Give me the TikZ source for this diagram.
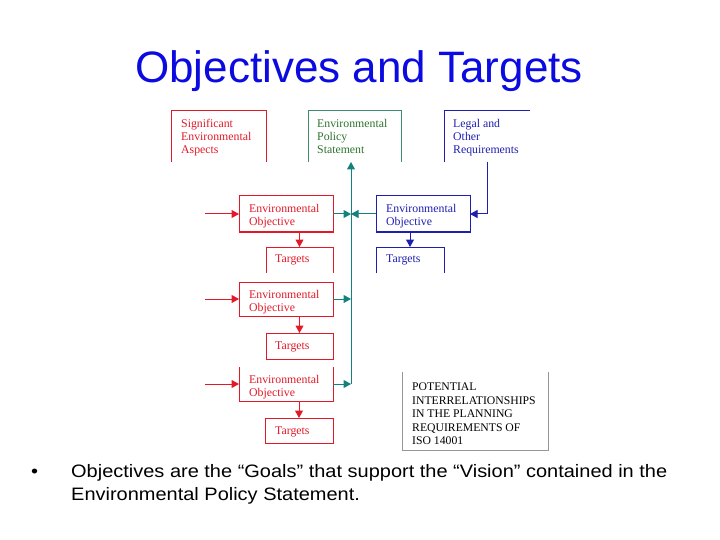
\documentclass[tikz,border=0pt]{standalone}
\usepackage{fontspec}
\setmainfont{Liberation Sans}
\newfontfamily\boxserif{Liberation Serif}
\newfontfamily\widesans[FakeStretch=1.11]{Liberation Sans}
\usetikzlibrary{arrows.meta}
\definecolor{titleblue}{RGB}{10,10,225}
\definecolor{dred}{RGB}{225,25,40}
\definecolor{dteal}{RGB}{20,128,128}
\definecolor{dblue}{RGB}{30,30,175}
\definecolor{dgreen}{RGB}{45,115,45}
\definecolor{pgreen}{RGB}{60,140,110}
\definecolor{dgray}{RGB}{150,150,150}
\begin{document}
\begin{tikzpicture}[x=1pt,y=-1pt,
  frame/.style={rectangle,draw=none,inner sep=0pt,outer sep=0pt,anchor=north west},
  btext/.style={anchor=north west,inner sep=0pt,align=left,font=\boxserif\fontsize{11.8}{13}\selectfont},
  ptext/.style={anchor=north west,inner sep=0pt,align=left,font=\boxserif\fontsize{11.7}{13.5}\selectfont},
  edge/.style={line width=1pt},
  arr/.style={line width=1pt,-{Triangle[length=7.5pt,width=8pt]}}]
\useasboundingbox (0,0) rectangle (720,540);

% title
\node[anchor=base,inner sep=0pt,text=titleblue,font=\fontsize{44}{50}\selectfont] (title) at (359,83) {Objectives and Targets};

% frames (invisible nodes, outlines drawn below)
\node[frame,minimum width=95pt,minimum height=51pt] (sig) at (171,111) {};
\node[frame,minimum width=93pt,minimum height=51pt] (pol) at (308,111) {};
\node[frame,minimum width=86pt,minimum height=51pt] (leg) at (444,111) {};
\node[frame,minimum width=94pt,minimum height=36pt] (obj1) at (239,196) {};
\node[frame,minimum width=67pt,minimum height=26pt] (tar1) at (266,247) {};
\node[frame,minimum width=94pt,minimum height=36pt] (objB) at (376,196) {};
\node[frame,minimum width=68pt,minimum height=26pt] (tarB) at (376,247) {};
\node[frame,minimum width=94pt,minimum height=34pt] (obj2) at (239,282) {};
\node[frame,minimum width=67pt,minimum height=26pt] (tar2) at (266,333) {};
\node[frame,minimum width=94pt,minimum height=34pt] (obj3) at (239,367) {};
\node[frame,minimum width=68pt,minimum height=25pt] (tar3) at (265,418) {};
\node[frame,minimum width=146pt,minimum height=78pt] (pot) at (402,372) {};

% outlines
\draw[edge,dred] (sig.south west) |- (sig.north east) -- (sig.south east);
\draw[edge,pgreen] (pol.south west) |- (pol.north east) -- (pol.south east);
\draw[edge,dblue] (leg.south west) |- (leg.north east);
\draw[edge,dred] (obj1.north west) rectangle (obj1.south east);
\draw[edge,dred] (tar1.south west) |- (tar1.north east) -- (tar1.south east);
\draw[edge,dblue] (objB.north west) rectangle (objB.south east);
\draw[edge,dblue] (tarB.south west) |- (tarB.north east) -- (tarB.south east);
\draw[edge,dred] (obj2.north west) rectangle (obj2.south east);
\draw[edge,dred] (tar2.north west) rectangle (tar2.south east);
\draw[edge,dred] (obj3.north west) |- (obj3.south east) -- (obj3.north east);
\draw[edge,dred] (tar3.north west) rectangle (tar3.south east);
\draw[line width=0.8pt,dgray] (pot.north west) |- (pot.south east) -- (pot.north east);

% texts
\node[btext,text=dred] (sigt) at (181,119) {Significant\\Environmental\\Aspects};
\node[btext,text=dgreen] (polt) at (317,119) {Environmental\\Policy\\Statement};
\node[btext,text=dblue] (legt) at (453,119) {Legal and\\Other\\Requirements};
\node[btext,text=dred] (obj1t) at (249,204) {Environmental\\Objective};
\node[btext,text=dred] (tar1t) at (275,255) {Targets};
\node[btext,text=dblue] (objBt) at (386,204) {Environmental\\Objective};
\node[btext,text=dblue] (tarBt) at (386,255) {Targets};
\node[btext,text=dred] (obj2t) at (249,290) {Environmental\\Objective};
\node[btext,text=dred] (tar2t) at (275,342) {Targets};
\node[btext,text=dred] (obj3t) at (249,375) {Environmental\\Objective};
\node[btext,text=dred] (tar3t) at (275,427) {Targets};
\node[ptext,text=black] (pott) at (412,383) {POTENTIAL\\INTERRELATIONSHIPS\\IN THE PLANNING\\REQUIREMENTS OF\\ISO 14001};

% connector coordinates
\coordinate (in1) at (205,214);
\coordinate (in2) at (205,299);
\coordinate (in3) at (205,384);
\coordinate (j1) at (351,214);
\coordinate (tb) at (351,384);

% red connectors
\draw[arr,dred] (in1) -- (obj1.west);
\draw[arr,dred] (in2) -- (obj2.west);
\draw[arr,dred] (in3) -- (obj3.west);
\draw[arr,dred] (tar1.north |- obj1.south) -- (tar1.north);
\draw[arr,dred] (tar2.north |- obj2.south) -- (tar2.north);
\draw[arr,dred] (tar3.north |- obj3.south) -- (tar3.north);

% teal connectors
\draw[edge,dteal,-{Triangle[length=7.5pt,width=8pt]}] (tb) -- (tb |- pol.south);
\draw[arr,dteal] (obj1.east) -- (j1);
\draw[arr,dteal] (objB.west) -- (j1);
\draw[arr,dteal] (obj2.east) -- (obj2.east -| tb);
\draw[arr,dteal] (obj3.east) -- (tb);

% blue connectors
\draw[arr,dblue] (leg.south) |- (objB.east);
\draw[arr,dblue] (tarB.north |- objB.south) -- (tarB.north);

% bullet text
\node[anchor=base west,inner sep=0pt,font=\widesans\fontsize{18}{23}\selectfont] (bul) at (31,477) {\textbullet};
\node[anchor=north west,inner sep=0pt,align=left,font=\widesans\fontsize{18}{23}\selectfont] (txt) at (71,464) {Objectives are the “Goals” that support the “Vision” contained in the\\Environmental Policy Statement.};
\end{tikzpicture}
\end{document}
